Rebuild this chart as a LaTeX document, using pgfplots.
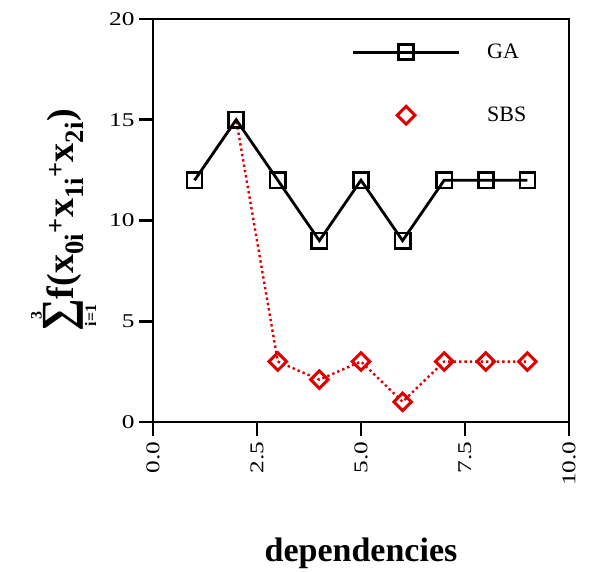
\documentclass[border=0pt]{standalone}
\usepackage{pgfplots}
\pgfplotsset{compat=1.18}
\usepackage{fontspec}
\setmainfont{Liberation Serif}
\newfontfamily\tickfont[FakeStretch=1.3]{Liberation Serif}
\definecolor{sbsred}{RGB}{222,0,0}
\pgfplotsset{sbslegend/.style={legend image code/.code={\path[draw=none] (0pt,0pt) -- (132pt,0pt);\draw[##1] plot coordinates {(53pt,0pt)};}}}
\begin{document}
\begin{tikzpicture}
\begin{axis}[
  name=ax,
  scale only axis,
  width=416pt, height=403pt,
  xmin=0, xmax=10, ymin=0, ymax=20,
  xtick={0,2.5,5,7.5,10},
  ytick={0,5,10,15,20},
  xticklabels={0.0,2.5,5.0,7.5,10.0},
  tick pos=left,
  tick align=outside,
  major tick length=14pt,
  axis line style={line width=2.6pt},
  every tick/.style={line width=2.6pt, black},
  tick label style={font=\tickfont\fontsize{19.5}{22}\selectfont},
  /pgf/number format/assume math mode=true,
  xticklabel style={rotate=90, anchor=east, xshift=-2pt},
  yticklabel style={anchor=east, xshift=-1pt},
  xlabel={\textbf{dependencies}},
  xlabel style={font=\fontsize{34}{40}\selectfont, yshift=-45pt},
  ylabel={$\mathop{\mbox{\fontsize{46}{50}\selectfont\bfseries ∑}}\limits_{\mbox{\fontsize{16}{18}\selectfont\bfseries i=1}}^{\mbox{\fontsize{16}{18}\selectfont\bfseries 3}}$\bfseries f(x\textsubscript{0i}\textsuperscript{+}x\textsubscript{1i}\textsuperscript{+}x\textsubscript{2i})},
  ylabel style={font=\fontsize{38}{44}\selectfont, yshift=5pt},
  legend style={draw=none, fill=none, at={(0.47,0.948)}, anchor=north west,
    font=\fontsize{22}{26}\selectfont, row sep=43pt,
    legend cell align=left},
  legend image code/.code={\path[draw=none] (0pt,0pt) -- (132pt,0pt);\draw[mark repeat=2,mark phase=2,#1] plot coordinates {(0pt,0pt) (53pt,0pt) (106pt,0pt)};},
]
\addplot[sbsred, line width=2.4pt, dash pattern=on 2.4pt off 3pt, forget plot]
  coordinates {(1,12) (2,15) (3,3)};
\addplot[sbsred, line width=2.4pt, dash pattern=on 2.4pt off 3pt, mark=square, mark size=6.2pt, mark options={solid, rotate=45, fill=white, line width=3pt}, forget plot]
  coordinates {(3,3) (4,2.1) (5,3) (6,1) (7,3) (8,3) (9,3)};
\addplot[black, line width=2.8pt, mark=square, mark size=7.6pt, mark options={solid, fill=white, line width=2.6pt}]
  coordinates {(1,12) (2,15) (3,12) (4,9) (5,12) (6,9) (7,12) (8,12) (9,12)};
\addlegendentry{GA}
\addlegendimage{only marks, sbsred, mark=square, mark size=6.2pt, mark options={solid, rotate=45, fill=white, line width=3pt}, sbslegend}
\addlegendentry{SBS}
\end{axis}
\path ([shift={(-153pt,-145pt)}]ax.south west) rectangle ([shift={(20pt,19pt)}]ax.north east);
\end{tikzpicture}
\end{document}
